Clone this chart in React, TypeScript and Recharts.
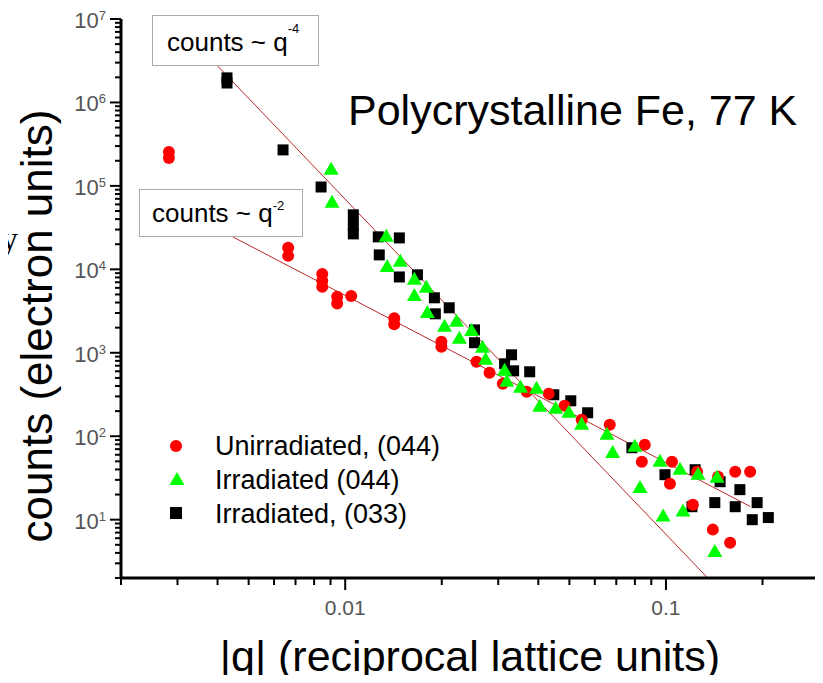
import React from 'react'
import { ScatterChart, Scatter, XAxis, YAxis, ReferenceLine } from 'recharts'

// values (q in reciprocal lattice units, counts in electron units)
const unirrQ = [0.00282, 0.00282, 0.00664, 0.00664, 0.00848, 0.00848, 0.00848, 0.00944, 0.00944, 0.01044, 0.01422, 0.01422, 0.01995, 0.01995, 0.02567, 0.02818, 0.031, 0.0368, 0.0431, 0.0483, 0.0546, 0.0668, 0.0859, 0.0841, 0.1044, 0.1029, 0.125, 0.1454, 0.1644, 0.183, 0.1213, 0.14, 0.1585]
const unirrC = [2.55e5, 2.16e5, 1.81e4, 1.45e4, 8800, 7300, 6200, 4700, 3900, 4800, 2600, 2200, 1360, 1180, 780, 575, 425, 341, 323, 232, 158, 137, 79, 49.5, 49.5, 27, 37.6, 32.7, 37.6, 37.6, 15.1, 7.6, 5.3]

const irr044Q = [0.00904, 0.0091, 0.01343, 0.01352, 0.01485, 0.01643, 0.0179, 0.01643, 0.01804, 0.0204, 0.02223, 0.02477, 0.0227, 0.0268, 0.0274, 0.0314, 0.0319, 0.0352, 0.0395, 0.0404, 0.0453, 0.0498, 0.0546, 0.0655, 0.0682, 0.08, 0.083, 0.0958, 0.1106, 0.1259, 0.1443, 0.098, 0.113, 0.142]
const irr044C = [1.56e5, 6.26e4, 2.45e4, 1.07e4, 1.23e4, 7500, 6000, 4800, 3000, 2050, 2350, 1830, 1470, 1150, 825, 608, 450, 381, 371, 226, 213, 191, 137, 104, 63, 75, 24, 49.5, 39.7, 34.6, 31.8, 10.9, 12.5, 4.1]

const irr033Q = [0.00428, 0.00428, 0.0064, 0.00841, 0.0106, 0.0106, 0.0106, 0.01268, 0.01475, 0.01277, 0.01475, 0.0168, 0.01897, 0.0211, 0.0191, 0.0253, 0.0253, 0.033, 0.0314, 0.0335, 0.0376, 0.0447, 0.0505, 0.057, 0.0783, 0.0993, 0.1233, 0.1475, 0.17, 0.1924, 0.142, 0.1644, 0.1858, 0.2085, 0.1205]
const irr033C = [1.97e6, 1.71e6, 2.7e5, 9.7e4, 4.5e4, 3.4e4, 2.66e4, 2.45e4, 2.38e4, 1.49e4, 8100, 8600, 4560, 3460, 2930, 1880, 1320, 946, 738, 608, 592, 314, 266, 191, 72.8, 34.6, 39.7, 28.5, 22.9, 16, 16, 14.3, 10, 10.6, 14.3]

// fitted power laws, end points as drawn
const fitQ4Q = [0.00398, 0.135]
const fitQ4C = [2.8e6, 2]
const fitQ2Q = [0.00446, 0.183]
const fitQ2C = [2.45e4, 14.4]

const xMajor = [0.01, 0.1]
const xLabels = ['0.01', '0.1']
const xMinor = [0.002, 0.003, 0.004, 0.005, 0.006, 0.007, 0.008, 0.009, 0.02, 0.03, 0.04, 0.05, 0.06, 0.07, 0.08, 0.09, 0.2, 0.3]
const yMajor = [10, 100, 1e3, 1e4, 1e5, 1e6, 1e7]
const yExponents = ['1', '2', '3', '4', '5', '6', '7']
const yMantissas = [2, 3, 4, 5, 6, 7, 8, 9]
const yDecades = [1, 10, 100, 1e3, 1e4, 1e5, 1e6]

const legendNames = ['Unirradiated, (044)', 'Irradiated (044)', 'Irradiated, (033)']

const FONT = '"Liberation Sans", Arial, sans-serif'
const SERIF = '"Liberation Serif", "Times New Roman", serif'

const zip = (q: number[], c: number[]) => q.map((v, i) => ({ q: v, c: c[i] }))
const unirr = zip(unirrQ, unirrC)
const irr044 = zip(irr044Q, irr044C)
const irr033 = zip(irr033Q, irr033C)

const yMinor = yDecades.flatMap(d => yMantissas.map(m => m * d))
const xTicks = [...xMinor, ...xMajor].sort((a, b) => a - b)
const yTicks = [...yMinor, ...yMajor].sort((a, b) => a - b)

function XTick({ x, y, payload }: any) {
  const i = xMajor.indexOf(payload.value)
  const major = i >= 0
  return (
    <g>
      <line x1={x} y1={y} x2={x} y2={y + (major ? 12 : 7)} stroke="#000" strokeWidth={2} />
      {major && (
        <text x={x} y={y + 37} textAnchor="middle" fontSize={21} fill="#555" fontFamily={FONT}>
          {xLabels[i]}
        </text>
      )}
    </g>
  )
}

function YTick({ x, y, payload }: any) {
  const i = yMajor.indexOf(payload.value)
  const major = i >= 0
  return (
    <g>
      <line x1={x} y1={y} x2={x - (major ? 11 : 6)} y2={y} stroke="#000" strokeWidth={2} />
      {major && (
        <text x={x - 15} y={y + 9} textAnchor="end" fontSize={22} fill="#555" fontFamily={FONT}>
          10
          <tspan dy={-8} fontSize={13}>{yExponents[i]}</tspan>
        </text>
      )}
    </g>
  )
}

const Dot = ({ cx, cy }: any) => <circle cx={cx} cy={cy} r={6} fill="#ff0000" />
const Tri = ({ cx, cy }: any) => (
  <polygon points={`${cx},${cy - 8} ${cx - 7.5},${cy + 5} ${cx + 7.5},${cy + 5}`} fill="#00ff00" />
)
const Sq = ({ cx, cy }: any) => <rect x={cx - 5.5} y={cy - 5.5} width={11} height={11} fill="#000" />

export default function App() {
  return (
    <div style={{ position: 'relative', width: 823, height: 683, margin: -8, background: '#fff' }}>
      <ScatterChart width={823} height={683} margin={{ top: 19, right: 4, bottom: 65, left: 81 }}>
        <XAxis
          type="number"
          dataKey="q"
          scale="log"
          domain={[0.002, 0.3]}
          allowDataOverflow
          ticks={xTicks}
          interval={0}
          height={40}
          tickSize={0}
          tickMargin={0}
          tickLine={false}
          axisLine={{ stroke: '#000', strokeWidth: 3 }}
          tick={<XTick />}
        />
        <YAxis
          type="number"
          dataKey="c"
          scale="log"
          domain={[2, 1e7]}
          allowDataOverflow
          ticks={yTicks}
          interval={0}
          width={40}
          tickSize={0}
          tickMargin={0}
          tickLine={false}
          axisLine={{ stroke: '#000', strokeWidth: 3 }}
          tick={<YTick />}
        />
        <Scatter data={irr033} shape={<Sq />} isAnimationActive={false} />
        <Scatter data={unirr} shape={<Dot />} isAnimationActive={false} />
        <Scatter data={irr044} shape={<Tri />} isAnimationActive={false} />
        <ReferenceLine
          segment={fitQ4Q.map((q, i) => ({ x: q, y: fitQ4C[i] }))}
          stroke="#b82828"
          strokeWidth={1}
          ifOverflow="visible"
        />
        <ReferenceLine
          segment={fitQ2Q.map((q, i) => ({ x: q, y: fitQ2C[i] }))}
          stroke="#b82828"
          strokeWidth={1}
          ifOverflow="visible"
        />
      </ScatterChart>

      <svg
        width={823}
        height={683}
        style={{ position: 'absolute', left: 0, top: 0, pointerEvents: 'none' }}
        fontFamily={FONT}
      >
        <text x={1} y={250} fontSize={34} fontFamily={SERIF}>
          y
        </text>
        <text x={52} y={326} transform="rotate(-90 52 326)" textAnchor="middle" fontSize={44}>
          counts (electron units)
        </text>
        <text x={470} y={671} textAnchor="middle" fontSize={43}>
          |q| (reciprocal lattice units)
        </text>
        <text x={348} y={125} fontSize={43}>
          Polycrystalline Fe, 77 K
        </text>

        <rect x={152.5} y={15.5} width={166} height={50} fill="#fff" stroke="#aaa" />
        <text x={167} y={51} fontSize={26}>
          counts ~ q<tspan dy={-18} fontSize={13}>-4</tspan>
        </text>
        <rect x={139.5} y={189.5} width={163} height={47} fill="#fff" stroke="#aaa" />
        <text x={152} y={222} fontSize={26}>
          counts ~ q<tspan dy={-12} fontSize={13}>-2</tspan>
        </text>

        <circle cx={176} cy={446} r={6} fill="#ff0000" />
        <polygon points="177,472 169.5,485 184.5,485" fill="#00ff00" />
        <rect x={170} y={507} width={12} height={12} fill="#000" />
        {legendNames.map((name, i) => (
          <text key={name} x={215} y={455 + i * 34} fontSize={27}>
            {name}
          </text>
        ))}
      </svg>
    </div>
  )
}
